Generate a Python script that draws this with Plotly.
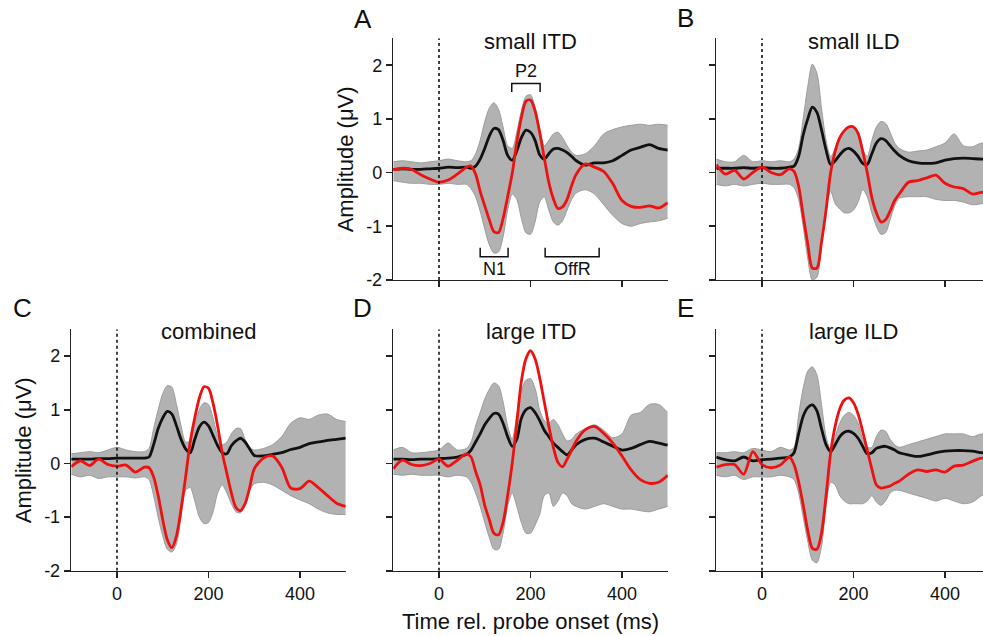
import plotly.graph_objects as go

# ---------------- data ----------------
T = [-100, -80, -60, -40, -20, 0, 20, 40, 60,
     70, 80, 90, 100, 110, 120, 130, 140, 150, 160, 170, 180, 190, 200, 210, 220,
     230, 240, 250, 260, 270, 280, 290, 300,
     320, 340, 360, 380, 400, 420, 440, 460, 480, 500]

# Panel A: small ITD
A_red = [0.05, 0.08, 0.06, -0.04, -0.12, -0.18, -0.14, -0.03, 0.10,
         0.12, -0.03, -0.35, -0.62, -0.88, -1.10, -1.12, -0.86, -0.45, -0.02, 0.56, 1.02, 1.33, 1.35, 1.15, 0.75,
         0.28, -0.18, -0.49, -0.67, -0.64, -0.50, -0.24, -0.03,
         0.16, 0.10, 0.02, -0.21, -0.52, -0.63, -0.65, -0.62, -0.66, -0.56]
A_black = [0.06, 0.07, 0.06, 0.06, 0.07, 0.08, 0.10, 0.09, 0.10,
           0.08, 0.12, 0.25, 0.45, 0.68, 0.82, 0.80, 0.60, 0.32, 0.23, 0.40, 0.65, 0.79, 0.75, 0.60, 0.33,
           0.25, 0.35, 0.44, 0.45, 0.42, 0.37, 0.30, 0.22,
           0.14, 0.18, 0.18, 0.22, 0.32, 0.42, 0.47, 0.52, 0.45, 0.42]
A_upper = [0.20, 0.22, 0.20, 0.18, 0.20, 0.22, 0.25, 0.22, 0.20,
           0.22, 0.35, 0.60, 0.95, 1.20, 1.30, 1.18, 0.85, 0.50, 0.45, 0.75, 1.15, 1.42, 1.45, 1.22, 0.82,
           0.50, 0.60, 0.72, 0.75, 0.65, 0.50, 0.38, 0.32,
           0.35, 0.50, 0.72, 0.80, 0.85, 0.88, 0.90, 0.88, 0.90, 0.88]
A_lower = [-0.15, -0.18, -0.20, -0.20, -0.22, -0.22, -0.20, -0.22, -0.22,
           -0.30, -0.45, -0.72, -1.05, -1.35, -1.50, -1.48, -1.20, -0.70, -0.40, -0.50, -0.85, -1.12, -1.15, -0.92, -0.55,
           -0.45, -0.70, -0.92, -0.98, -0.90, -0.70, -0.50, -0.38,
           -0.32, -0.40, -0.60, -0.80, -0.95, -1.00, -0.95, -0.92, -0.90, -0.85]

# Panel B: small ILD
B_red = [0.15, -0.03, 0.04, -0.12, 0.00, 0.10, 0.00, -0.04, 0.07,
         0.02, -0.25, -0.80, -1.33, -1.78, -1.78, -1.30, -0.70, 0.00, 0.40, 0.65, 0.78, 0.85, 0.85, 0.73, 0.40,
         0.00, -0.46, -0.75, -0.92, -0.88, -0.72, -0.52, -0.40,
         -0.18, -0.15, -0.10, -0.05, -0.20, -0.27, -0.30, -0.40, -0.37, -0.38]
B_black = [0.08, 0.08, 0.08, 0.09, 0.08, 0.09, 0.08, 0.08, 0.10,
           0.12, 0.30, 0.70, 1.00, 1.22, 1.12, 0.80, 0.42, 0.15, 0.22, 0.33, 0.42, 0.45, 0.40, 0.30, 0.17,
           0.15, 0.35, 0.55, 0.63, 0.60, 0.50, 0.40, 0.32,
           0.22, 0.18, 0.17, 0.18, 0.23, 0.26, 0.27, 0.26, 0.25, 0.25]
B_upper = [0.25, 0.20, 0.20, 0.32, 0.20, 0.22, 0.20, 0.22, 0.20,
           0.25, 0.45, 1.00, 1.60, 2.02, 1.85, 1.20, 0.60, 0.30, 0.45, 0.68, 0.80, 0.86, 0.85, 0.72, 0.42,
           0.30, 0.60, 0.85, 0.95, 0.92, 0.75, 0.55, 0.45,
           0.38, 0.40, 0.42, 0.48, 0.55, 0.72, 0.50, 0.48, 0.55, 0.50]
B_lower = [-0.22, -0.25, -0.22, -0.25, -0.22, -0.20, -0.22, -0.22, -0.22,
           -0.28, -0.50, -1.00, -1.60, -2.00, -1.95, -1.35, -0.65, -0.35, -0.58, -0.68, -0.75, -0.75, -0.70, -0.55, -0.32,
           -0.45, -0.75, -1.00, -1.15, -1.12, -0.88, -0.62, -0.48,
           -0.45, -0.45, -0.45, -0.50, -0.52, -0.52, -0.55, -0.60, -0.58, -0.55]

# Panel C: combined
C_red = [-0.06, 0.05, -0.04, 0.08, -0.02, -0.05, -0.03, -0.16, -0.07,
         -0.08, -0.25, -0.60, -1.05, -1.42, -1.57, -1.35, -0.85, -0.25, 0.40, 0.85, 1.22, 1.43, 1.40, 1.12, 0.70,
         0.20, -0.18, -0.55, -0.82, -0.88, -0.75, -0.45, -0.10,
         0.10, 0.14, -0.07, -0.46, -0.47, -0.33, -0.45, -0.60, -0.74, -0.80]
C_black = [0.08, 0.08, 0.08, 0.09, 0.09, 0.10, 0.10, 0.10, 0.10,
           0.12, 0.35, 0.65, 0.85, 0.97, 0.92, 0.70, 0.45, 0.27, 0.20, 0.45, 0.68, 0.77, 0.70, 0.52, 0.33,
           0.20, 0.18, 0.33, 0.42, 0.47, 0.40, 0.27, 0.15,
           0.14, 0.17, 0.20, 0.26, 0.30, 0.37, 0.40, 0.43, 0.45, 0.47]
C_upper = [0.18, 0.20, 0.22, 0.20, 0.25, 0.30, 0.25, 0.22, 0.22,
           0.28, 0.65, 1.00, 1.30, 1.45, 1.42, 1.10, 0.70, 0.40, 0.42, 0.72, 1.00, 1.13, 1.10, 0.85, 0.50,
           0.35, 0.40, 0.55, 0.65, 0.65, 0.45, 0.30, 0.25,
           0.28, 0.35, 0.50, 0.75, 0.85, 0.82, 0.90, 0.92, 0.82, 0.78]
C_lower = [-0.20, -0.25, -0.22, -0.28, -0.25, -0.25, -0.25, -0.27, -0.25,
           -0.30, -0.60, -1.00, -1.35, -1.60, -1.65, -1.50, -1.00, -0.50, -0.45, -0.70, -1.00, -1.12, -1.10, -0.90, -0.55,
           -0.40, -0.55, -0.75, -0.90, -0.92, -0.75, -0.50, -0.38,
           -0.35, -0.40, -0.50, -0.60, -0.68, -0.75, -0.85, -0.92, -0.95, -0.95]

# Panel D: large ITD
D_red = [-0.10, 0.06, -0.02, -0.04, 0.00, 0.08, -0.05, 0.06, 0.18,
         0.12, -0.15, -0.40, -0.78, -1.05, -1.30, -1.33, -1.10, -0.60, 0.00, 0.75, 1.53, 1.95, 2.10, 1.95, 1.60,
         1.15, 0.70, 0.30, 0.02, -0.06, 0.08, 0.25, 0.42,
         0.63, 0.69, 0.56, 0.38, 0.14, -0.12, -0.30, -0.37, -0.35, -0.22]
D_black = [0.08, 0.08, 0.07, 0.08, 0.08, 0.09, 0.10, 0.12, 0.17,
           0.25, 0.40, 0.55, 0.72, 0.84, 0.93, 0.92, 0.75, 0.50, 0.32, 0.45, 0.84, 1.00, 1.04, 0.95, 0.80,
           0.62, 0.50, 0.38, 0.30, 0.22, 0.16, 0.25, 0.35,
           0.45, 0.47, 0.40, 0.32, 0.25, 0.28, 0.35, 0.41, 0.38, 0.34]
D_upper = [0.25, 0.30, 0.20, 0.20, 0.22, 0.25, 0.38, 0.25, 0.28,
           0.40, 0.70, 0.95, 1.20, 1.38, 1.50, 1.45, 1.15, 0.70, 0.45, 0.90, 1.35, 1.55, 1.58, 1.40, 1.00,
           0.80, 0.75, 0.82, 0.72, 0.55, 0.42, 0.45, 0.55,
           0.65, 0.72, 0.62, 0.48, 0.55, 0.90, 0.95, 1.10, 1.10, 0.95]
D_lower = [-0.20, -0.22, -0.20, -0.22, -0.22, -0.22, -0.25, -0.22, -0.25,
           -0.35, -0.55, -0.80, -1.10, -1.38, -1.60, -1.60, -1.30, -0.80, -0.55, -0.80, -1.10, -1.30, -1.30, -1.15, -0.95,
           -0.60, -0.55, -0.80, -0.70, -0.55, -0.60, -0.75, -0.80,
           -0.85, -0.80, -0.75, -0.80, -0.85, -0.85, -0.88, -0.90, -0.85, -0.80]

# Panel E: large ILD
E_red = [-0.07, -0.02, -0.02, -0.20, 0.22, -0.02, -0.08, -0.03, 0.12,
         -0.02, -0.34, -0.77, -1.25, -1.58, -1.60, -1.30, -0.60, 0.20, 0.70, 1.02, 1.18, 1.22, 1.13, 0.92, 0.60,
         0.25, -0.10, -0.40, -0.46, -0.44, -0.42, -0.37, -0.33,
         -0.20, -0.12, -0.15, -0.12, -0.16, -0.05, -0.03, 0.04, 0.10, 0.05]
E_black = [0.12, 0.07, 0.05, 0.12, 0.05, 0.07, 0.08, 0.10, 0.12,
           0.20, 0.55, 0.88, 1.04, 1.09, 0.98, 0.65, 0.35, 0.22, 0.35, 0.50, 0.58, 0.60, 0.56, 0.47, 0.32,
           0.18, 0.20, 0.28, 0.31, 0.32, 0.29, 0.25, 0.20,
           0.16, 0.13, 0.16, 0.20, 0.23, 0.24, 0.24, 0.23, 0.20, 0.18]
E_upper = [0.20, 0.20, 0.22, 0.20, 0.28, 0.25, 0.22, 0.30, 0.25,
           0.30, 0.90, 1.40, 1.72, 1.80, 1.65, 1.10, 0.50, 0.25, 0.50, 0.75, 0.90, 0.95, 0.90, 0.75, 0.45,
           0.30, 0.30, 0.50, 0.62, 0.60, 0.45, 0.35, 0.30,
           0.35, 0.40, 0.45, 0.50, 0.55, 0.55, 0.55, 0.50, 0.55, 0.50]
E_lower = [-0.22, -0.25, -0.22, -0.30, -0.25, -0.25, -0.25, -0.22, -0.25,
           -0.30, -0.55, -1.00, -1.45, -1.80, -1.85, -1.55, -0.80, -0.35, -0.40, -0.60, -0.70, -0.75, -0.75, -0.75, -0.75,
           -0.70, -0.60, -0.72, -0.78, -0.70, -0.55, -0.50, -0.50,
           -0.55, -0.60, -0.65, -0.70, -0.65, -0.70, -0.75, -0.72, -0.60, -0.55]

PANEL_LETTERS = ["A", "B", "C", "D", "E"]
PANEL_TITLES = ["small ITD", "small ILD", "combined", "large ITD", "large ILD"]

# ERP component windows marked in panel A (ms)
COMP_LABELS = ["N1", "P2", "OffR"]
COMP_START = [90, 159, 232]
COMP_END = [151, 221, 350]

X_TICKS = [0, 200, 400]
Y_TICKS = [-2, -1, 0, 1, 2]
Y_TICK_TEXT = ["-2", "-1", "0", "1", "2"]

# ---------------- layout geometry ----------------
REF_W, REF_H = 983, 636      # reference picture size (positions below are in its pixels)
W, H = 983, 648              # figure size (the captured page is ~648 px tall)
FONT = "Liberation Sans, Arial, sans-serif"
GRAY_LINE = "rgb(155,155,155)"
GRAY_FILL = "rgb(178,178,178)"
AX_COLOR = "#222222"
TXT = "#111111"


def px_x(p):
    return min(1.0, p / REF_W)


def px_y(p):
    return 1 - p / REF_H


# column pixel extents (x axis -100..xmax) and row pixel extents (y -2..2.5)
COLS = {1: (71.25, 345.75, 500), 2: (393.25, 667.75, 500), 3: (716.25, 983.0, 483)}
ROWS = {1: (38.25, 279.0), 2: (328.25, 569.0)}

panels = [
    dict(row=1, col=2, red=A_red, black=A_black, up=A_upper, lo=A_lower, ylab=True, xlab=False),
    dict(row=1, col=3, red=B_red, black=B_black, up=B_upper, lo=B_lower, ylab=False, xlab=False),
    dict(row=2, col=1, red=C_red, black=C_black, up=C_upper, lo=C_lower, ylab=True, xlab=True),
    dict(row=2, col=2, red=D_red, black=D_black, up=D_upper, lo=D_lower, ylab=False, xlab=True),
    dict(row=2, col=3, red=E_red, black=E_black, up=E_upper, lo=E_lower, ylab=False, xlab=True),
]

fig = go.Figure()
layout = dict(
    width=W, height=H,
    margin=dict(l=0, r=0, t=0, b=0),
    paper_bgcolor="white", plot_bgcolor="white",
    showlegend=False,
    font=dict(family=FONT, color=TXT, size=18),
)
annotations = []
shapes = []

for i, p in enumerate(panels):
    n = i + 1
    xa = "x" if n == 1 else f"x{n}"
    ya = "y" if n == 1 else f"y{n}"
    x0p, x1p, xmax = COLS[p["col"]]
    y0p, y1p = ROWS[p["row"]]
    spl = dict(shape="spline", smoothing=0.8)

    fig.add_trace(go.Scatter(x=T, y=p["lo"], xaxis=xa, yaxis=ya, mode="lines",
                             line=dict(color=GRAY_LINE, width=1, **spl), hoverinfo="skip"))
    fig.add_trace(go.Scatter(x=T, y=p["up"], xaxis=xa, yaxis=ya, mode="lines", fill="tonexty",
                             fillcolor=GRAY_FILL,
                             line=dict(color=GRAY_LINE, width=1, **spl), hoverinfo="skip"))
    fig.add_trace(go.Scatter(x=T, y=p["black"], xaxis=xa, yaxis=ya, mode="lines",
                             line=dict(color="#111111", width=2.8, **spl)))
    fig.add_trace(go.Scatter(x=T, y=p["red"], xaxis=xa, yaxis=ya, mode="lines",
                             line=dict(color="#ee1111", width=2.8, **spl)))

    layout["xaxis" if n == 1 else f"xaxis{n}"] = dict(
        domain=[px_x(x0p), px_x(x1p)], range=[-100, xmax], anchor=ya,
        showline=True, linecolor=AX_COLOR, linewidth=1.5, mirror=False,
        ticks="outside", ticklen=6, tickwidth=1.5, tickcolor=AX_COLOR,
        tickvals=X_TICKS, showticklabels=p["xlab"], ticklabelstandoff=0,
        tickfont=dict(size=18, family=FONT, color=TXT),
        showgrid=False, zeroline=False, fixedrange=True)
    layout["yaxis" if n == 1 else f"yaxis{n}"] = dict(
        domain=[px_y(y1p), px_y(y0p)], range=[-2, 2.5], anchor=xa,
        showline=True, linecolor=AX_COLOR, linewidth=1.5,
        ticks="outside", ticklen=6, tickwidth=1.5, tickcolor=AX_COLOR,
        tickvals=Y_TICKS, ticktext=Y_TICK_TEXT, showticklabels=p["ylab"],
        tickfont=dict(size=18, family=FONT, color=TXT),
        showgrid=False, zeroline=False, fixedrange=True)

    # stimulus onset marker
    shapes.append(dict(type="line", xref=xa, yref=ya, x0=0, x1=0, y0=-2, y1=2.5,
                       line=dict(color="#111111", width=1.6, dash="dot"), layer="above"))

    # panel title
    annotations.append(dict(text=PANEL_TITLES[i], xref=xa, yref="paper", x=200,
                            y=px_y(41 if p["row"] == 1 else 330), xanchor="center", yanchor="middle",
                            showarrow=False, font=dict(size=22, family=FONT, color=TXT)))
    # y axis title
    if p["ylab"]:
        annotations.append(dict(text="Amplitude (μV)", xref="paper", yref="paper",
                                x=px_x(x0p - 48), y=px_y((y0p + y1p) / 2), textangle=-90,
                                xanchor="center", yanchor="middle", showarrow=False,
                                font=dict(size=22, family=FONT, color=TXT)))

# panel letters
LETTER_POS = {"A": (363, 19), "B": (685, 18), "C": (22, 307), "D": (362, 307), "E": (685, 307)}
for L in PANEL_LETTERS:
    lx, ly = LETTER_POS[L]
    annotations.append(dict(text=L, xref="paper", yref="paper", x=px_x(lx), y=px_y(ly),
                            xanchor="center", yanchor="middle", showarrow=False,
                            font=dict(size=26, family=FONT, color=TXT)))

# x axis title
annotations.append(dict(text="Time rel. probe onset (ms)", xref="paper", yref="paper",
                        x=px_x(530.5), y=px_y(620), xanchor="center", yanchor="middle",
                        showarrow=False, font=dict(size=22, family=FONT, color=TXT)))

# component brackets in panel A
for lab, s, e in zip(COMP_LABELS, COMP_START, COMP_END):
    if lab == "P2":
        yb, yt, ytxt = 1.66, 1.50, 1.90
    else:
        yb, yt, ytxt = -1.57, -1.40, -1.79
    shapes.append(dict(type="path", xref="x", yref="y",
                       path=f"M {s},{yt} L {s},{yb} L {e},{yb} L {e},{yt}",
                       line=dict(color="#111111", width=1.5)))
    annotations.append(dict(text=lab, xref="x", yref="y", x=(s + e) / 2, y=ytxt,
                            xanchor="center", yanchor="middle", showarrow=False,
                            font=dict(size=18, family=FONT, color=TXT)))

layout["annotations"] = annotations
layout["shapes"] = shapes
fig.update_layout(**layout)
# the page body's default 8px margin would push the fixed-size figure off the window
fig.write_html("out.html",
               config={"displayModeBar": False, "staticPlot": True},
               post_script="document.body.style.margin='0';")
